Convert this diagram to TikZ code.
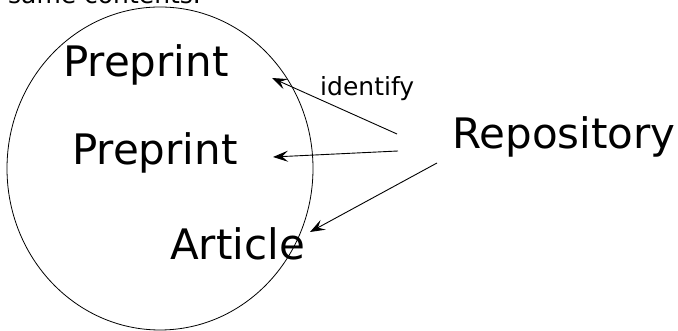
\documentclass[tikz,border=0pt]{standalone}
\usepackage{fontspec}
\setmainfont{DejaVu Sans}
\usetikzlibrary{arrows.meta,positioning,calc,shapes.geometric}

\begin{document}
\begin{tikzpicture}[
  x=1pt,y=1pt,
  label/.style={inner sep=0pt,anchor=base west,font=\fontsize{42}{48}\selectfont},
  note/.style={inner sep=0pt,anchor=base west,font=\fontsize{25}{30}\selectfont},
  arrow/.style={-{Stealth[length=15pt,width=11pt,inset=6pt]},line width=0.9pt}
]
\useasboundingbox (0,0) rectangle (678,331);
% set of versions
\node[draw,ellipse,line width=0.8pt,minimum width=306pt,minimum height=323pt,inner sep=0pt] (set) at (160,162.5) {};
\node[note] (cont) at (8,327) {same contents.};
\node[label] (pre1) at (63,254) {Preprint};
\node[label] (pre2) at (72,166) {Preprint};
\node[label] (art) at (170,71) {Article};
\node[label] (repo) at (452,182) {Repository};
\node[note] (ident) at (320,235) {identify};
% arrow ends
\coordinate (s1) at (397,197);
\coordinate (s2) at (398,180);
\coordinate (s3) at (437,168);
\coordinate (e1) at (272,253);
\coordinate (e2) at (273,174);
\coordinate (e3) at (310,99);
\draw[arrow] (s1) -- (e1);
\draw[arrow] (s2) -- (e2);
\draw[arrow] (s3) -- (e3);
\end{tikzpicture}
\end{document}
